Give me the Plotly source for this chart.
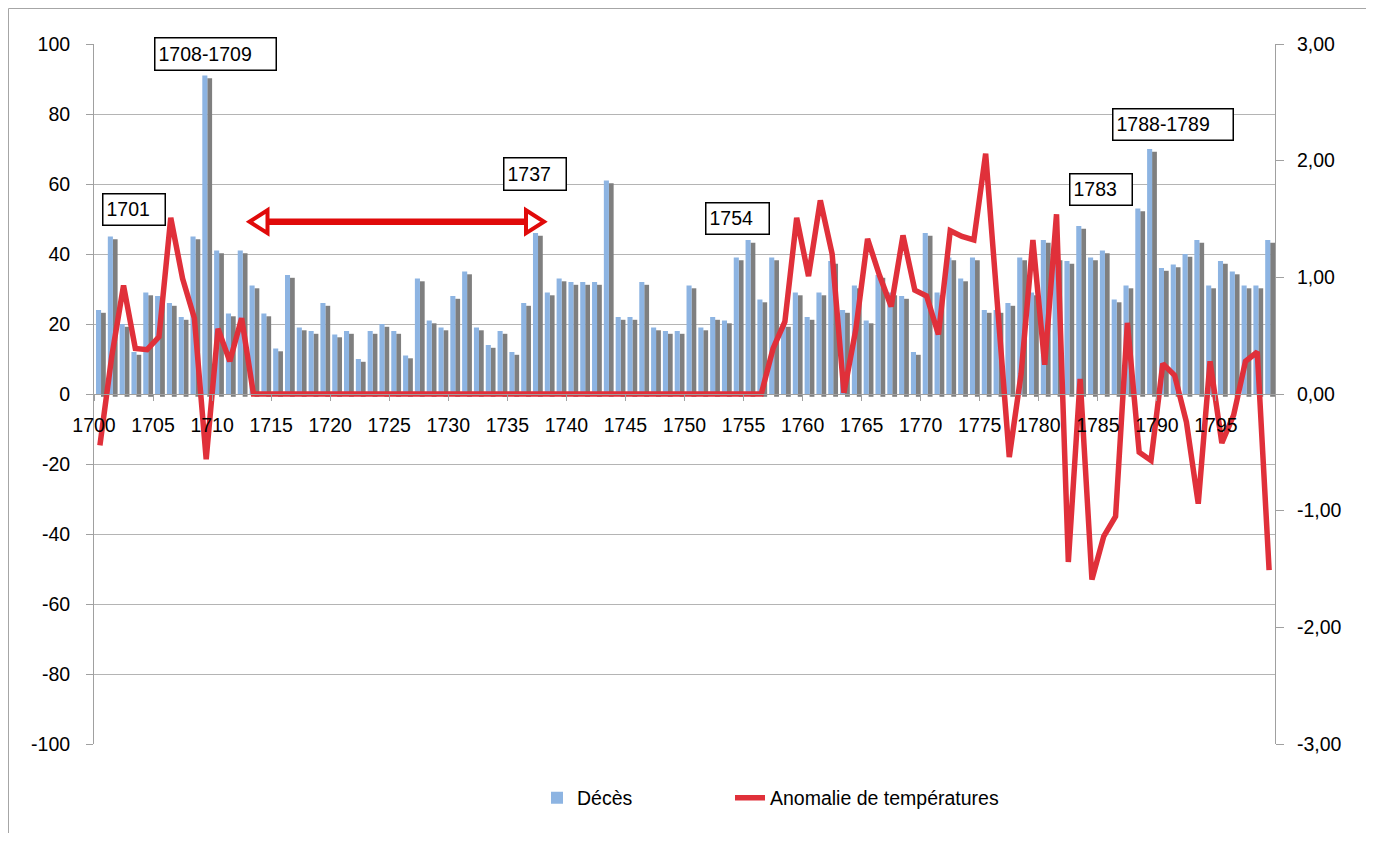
import plotly.graph_objects as go

# ---------------- data ----------------
years = list(range(1700, 1800))

deces = [
    24, 45, 20, 12, 29, 28, 26, 22, 45, 91,   # 1700-1709
    41, 23, 41, 31, 23, 13, 34, 19, 18, 26,   # 1710-1719
    17, 18, 10, 18, 20, 18, 11, 33, 21, 19,   # 1720-1729
    28, 35, 19, 14, 18, 12, 26, 46, 29, 33,   # 1730-1739
    32, 32, 32, 61, 22, 22, 32, 19, 18, 18,   # 1740-1749
    31, 19, 22, 21, 39, 44, 27, 39, 20, 29,   # 1750-1759
    22, 29, 38, 24, 31, 21, 34, 29, 28, 12,   # 1760-1769
    46, 29, 39, 33, 39, 24, 24, 26, 39, 29,   # 1770-1779
    44, 39, 38, 48, 39, 41, 27, 31, 53, 70,   # 1780-1789
    36, 37, 40, 44, 31, 38, 35, 31, 31, 44,   # 1790-1799
]

anomalie = [
    -0.44, 0.32, 0.93, 0.39, 0.38, 0.49, 1.51, 0.99, 0.65, -0.56,   # 1700-1709
    0.56, 0.28, 0.65, 0.00, 0.00, 0.00, 0.00, 0.00, 0.00, 0.00,     # 1710-1719
    0.00, 0.00, 0.00, 0.00, 0.00, 0.00, 0.00, 0.00, 0.00, 0.00,     # 1720-1729
    0.00, 0.00, 0.00, 0.00, 0.00, 0.00, 0.00, 0.00, 0.00, 0.00,     # 1730-1739
    0.00, 0.00, 0.00, 0.00, 0.00, 0.00, 0.00, 0.00, 0.00, 0.00,     # 1740-1749
    0.00, 0.00, 0.00, 0.00, 0.00, 0.00, 0.00, 0.39, 0.62, 1.51,     # 1750-1759
    1.01, 1.66, 1.20, 0.01, 0.55, 1.33, 1.02, 0.75, 1.36, 0.89,     # 1760-1769
    0.84, 0.51, 1.40, 1.35, 1.32, 2.06, 0.76, -0.54, 0.17, 1.32,    # 1770-1779
    0.25, 1.54, -1.44, 0.13, -1.59, -1.22, -1.05, 0.61, -0.50, -0.57,  # 1780-1789
    0.26, 0.16, -0.24, -0.94, 0.28, -0.42, -0.18, 0.28, 0.36, -1.51,   # 1790-1799
]

x_tick_years = list(range(1700, 1800, 5))
left_ticks = list(range(-100, 101, 20))
right_ticks = [-3, -2, -1, 0, 1, 2, 3]

labels = [
    ("1708-1709", 154.3, 37.3, 121.7, 32.0),
    ("1701", 101.7, 192.7, 62.3, 31.3),
    ("1737", 503.3, 157.3, 62.7, 32.0),
    ("1754", 705.3, 201.7, 63.0, 31.3),
    ("1783", 1068.7, 172.7, 62.6, 31.3),
    ("1788-1789", 1111.7, 107.7, 120.6, 31.3),
]

# ---------------- layout constants ----------------
OFF = 8                      # page body margin of the browser
W, H = 1358, 825             # figure size (fits the window with the body margin)
PL, PT, PR, PB = 94, 44, 1275, 744   # plot area in page pixels
PW, PH = PR - PL, PB - PT
L, T = PL - OFF, PT - OFF
R = W - (PR - OFF)
B = H - (PB - OFF)
FONT = "Liberation Sans, Arial, sans-serif"
FS = 19.5
GRID = "#b4b4b4"
AXIS = "#a0a0a0"


def px(xp):
    return (xp - PL) / PW


def py(yp):
    return (PB - yp) / PH


fig = go.Figure()

# shadow of the bars
fig.add_trace(go.Bar(
    x=years, y=deces, base=-0.8, offset=0.59, width=0.41,
    marker=dict(color="#7f7f7f", line=dict(width=0)),
    showlegend=False, hoverinfo="skip",
))
# bars
fig.add_trace(go.Bar(
    x=years, y=deces, offset=0.17, width=0.43,
    marker=dict(color="#8db4e2", line=dict(width=0)),
    name="Décès", legendwidth=148,
))
# temperature anomaly line
fig.add_trace(go.Scatter(
    x=[y + 0.5 for y in years], y=anomalie, mode="lines",
    line=dict(color="#e0303a", width=5.5),
    yaxis="y2", name="Anomalie de températures", legendwidth=260,
))

shapes = []
# outer chart border (top and left edges visible in the window)
shapes.append(dict(type="line", xref="paper", yref="paper",
                   x0=px(8.5), x1=px(1400), y0=py(8.5), y1=py(8.5),
                   line=dict(color="#a6a6a6", width=1), layer="below"))
shapes.append(dict(type="line", xref="paper", yref="paper",
                   x0=px(8.5), x1=px(8.5), y0=py(8.5), y1=py(845),
                   line=dict(color="#a6a6a6", width=1), layer="below"))
# double-headed arrow
ay = 221.7
arrow_red = "#e00a0a"
shapes.append(dict(type="line", xref="paper", yref="paper",
                   x0=px(268), x1=px(525), y0=py(ay), y1=py(ay),
                   line=dict(color=arrow_red, width=6.5)))
for tip, base in [(249.5, 267.5), (544.0, 526.0)]:
    path = "M {} {} L {} {} L {} {} Z".format(
        px(tip), py(ay), px(base), py(ay - 11.5), px(base), py(ay + 11.5))
    shapes.append(dict(type="path", xref="paper", yref="paper", path=path,
                       line=dict(color=arrow_red, width=4), fillcolor="white"))

annotations = []
for text, lx, ty, w, h in labels:
    annotations.append(dict(
        text=text, xref="paper", yref="paper", x=px(lx), y=py(ty),
        xanchor="left", yanchor="top", showarrow=False,
        font=dict(family=FONT, size=19.5, color="black"),
        bordercolor="black", borderwidth=1.5, borderpad=3,
        width=w - 7.5, height=h - 7.5, align="left", valign="middle",
        bgcolor="white",
    ))

fig.update_layout(
    width=W, height=H,
    margin=dict(l=L, r=R, t=T, b=B, pad=0, autoexpand=False),
    paper_bgcolor="white", plot_bgcolor="white",
    barmode="overlay",
    font=dict(family=FONT, size=FS, color="black"),
    showlegend=True,
    legend=dict(orientation="h", x=px(537), y=py(798), xanchor="left",
                yanchor="middle", font=dict(family=FONT, size=FS, color="black"),
                bgcolor="rgba(0,0,0,0)", traceorder="normal"),
    xaxis=dict(
        range=[1700, 1800], tickmode="array", tickvals=x_tick_years,
        ticktext=[str(v) for v in x_tick_years],
        anchor="free", position=0.5,
        showline=True, linecolor=AXIS, linewidth=1,
        ticks="outside", ticklen=6, tickcolor=AXIS,
        showgrid=False, zeroline=False,
        tickfont=dict(family=FONT, size=FS, color="black"),
        ticklabelstandoff=8,
    ),
    yaxis=dict(
        range=[-100, 100], tickmode="array", tickvals=left_ticks,
        ticktext=[str(v) for v in left_ticks],
        showgrid=True, gridcolor=GRID, gridwidth=1.2, zeroline=False,
        showline=True, linecolor=AXIS, linewidth=1,
        ticks="outside", ticklen=7, tickcolor=AXIS,
        tickfont=dict(family=FONT, size=FS, color="black"),
        ticklabelstandoff=12,
    ),
    yaxis2=dict(
        range=[-3, 3], overlaying="y", side="right", tickmode="array",
        tickvals=right_ticks,
        ticktext=["{:.2f}".format(v).replace(".", ",") for v in right_ticks],
        showgrid=False, zeroline=False,
        showline=True, linecolor=AXIS, linewidth=1,
        ticks="outside", ticklen=8, tickcolor=AXIS,
        tickfont=dict(family=FONT, size=FS, color="black"),
        ticklabelstandoff=9,
    ),
    shapes=shapes,
    annotations=annotations,
)

fig.write_html("out.html")
